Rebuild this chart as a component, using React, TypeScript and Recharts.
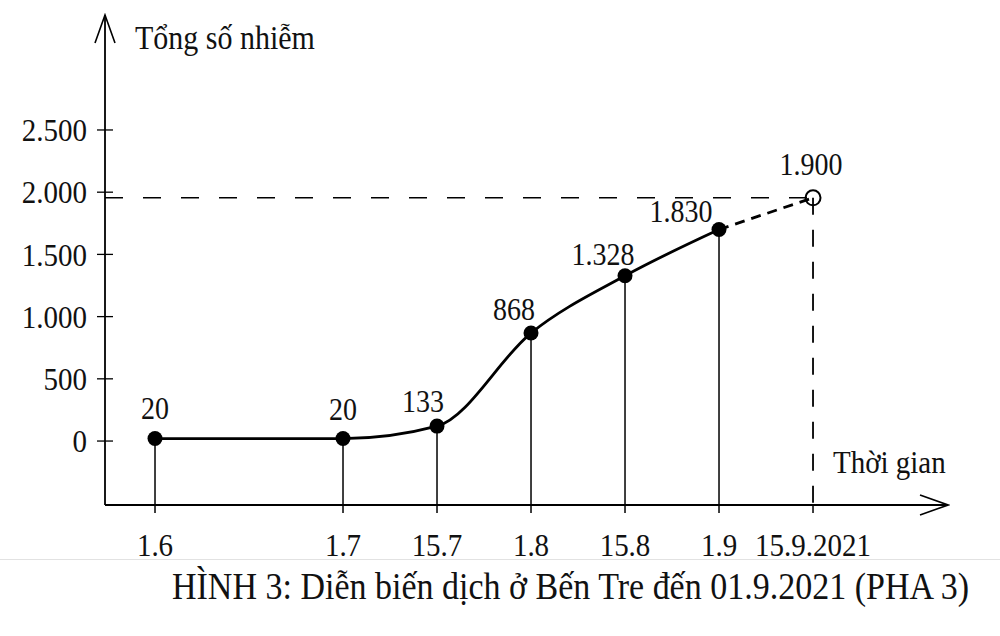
import React from "react";
import { LineChart, Line, XAxis, YAxis, ReferenceLine } from "recharts";

// half-months since 1.6 (1.6 = 0, 15.6 = 1, 1.7 = 2 ...)
const datePositions = [0, 2, 3, 4, 5, 6, 7];
const dateLabels = ["1.6", "1.7", "15.7", "1.8", "15.8", "1.9", "15.9.2021"];
// heights as drawn in the figure
const casesPlotted = [20, 20, 120, 868, 1328, 1700, 1955];
const caseLabels = ["20", "20", "133", "868", "1.328", "1.830", "1.900"];
const yTicks = [0, 500, 1000, 1500, 2000, 2500];

const X_MIN = -0.532;
const X_MAX = 8.436;
const Y_MIN = -514;
const Y_MAX = 3424;
const LAST_SOLID = 5;
const SERIF = "'Liberation Serif', 'Times New Roman', serif";

// label placement relative to each dot (baseline offset)
const labelOffsets = [
  [0, -20],
  [0, -19],
  [-14, -14],
  [-17, -13],
  [-22, -11],
  [-38, -8],
  [-2, -23],
];

const data = datePositions.map((t, i) => ({
  t,
  solid: i <= LAST_SOLID ? casesPlotted[i] : null,
  proj: i >= LAST_SOLID ? casesPlotted[i] : null,
}));

const fmt = (v: number) => String(v).replace(/\B(?=(\d{3})+(?!\d))/g, ".");

// the scanned figure's glyphs are a little taller than they are wide
const stretch = (y: number) => `matrix(1 0 0 1.1 0 ${-0.1 * y})`;

const YTick = (props: any) => {
  const { x, y, payload } = props;
  return (
    <g>
      <line x1={x + 10} x2={x + 26} y1={y} y2={y} stroke="#000" strokeWidth={1.3} />
      <text
        x={x}
        y={y}
        dy="0.35em"
        textAnchor="end"
        fontFamily={SERIF}
        fontSize={29}
        fill="#111"
        transform={stretch(y)}
      >
        {fmt(payload.value)}
      </text>
    </g>
  );
};

const XTick = (props: any) => {
  const { x, y, payload } = props;
  return (
    <text
      x={x}
      y={y}
      dy="0.71em"
      textAnchor="middle"
      fontFamily={SERIF}
      fontSize={29}
      fill="#111"
      transform={stretch(y)}
    >
      {dateLabels[datePositions.indexOf(payload.value)]}
    </text>
  );
};

const DotLabel = ({ cx, cy, i }: { cx: number; cy: number; i: number }) => {
  const y = cy + labelOffsets[i][1];
  return (
    <text
      x={cx + labelOffsets[i][0]}
      y={y}
      textAnchor="middle"
      fontFamily={SERIF}
      fontSize={28}
      fill="#111"
      transform={stretch(y)}
    >
      {caseLabels[i]}
    </text>
  );
};

const SolidDot = (props: any) => {
  const { cx, cy, index } = props;
  if (cy == null) return <g key={`s${index}`} />;
  return (
    <g key={`s${index}`}>
      <circle cx={cx} cy={cy} r={7.5} fill="#000" />
      <DotLabel cx={cx} cy={cy} i={index} />
    </g>
  );
};

const ProjDot = (props: any) => {
  const { cx, cy, index } = props;
  if (cy == null || index < casesPlotted.length - 1) return <g key={`p${index}`} />;
  return (
    <g key={`p${index}`}>
      <circle cx={cx} cy={cy} r={7.5} fill="none" stroke="#000" strokeWidth={2} />
      <DotLabel cx={cx} cy={cy} i={index} />
    </g>
  );
};

export default function App() {
  const last = casesPlotted.length - 1;
  return (
    <div style={{ position: "absolute", left: 0, top: 0, width: 1000, height: 636, background: "#fff" }}>
      <div style={{ position: "absolute", left: 0, top: 559, width: 1000, height: 1, background: "#e2e2e2" }} />
      <LineChart
        width={1000}
        height={636}
        data={data}
        margin={{ top: 15, right: 52, left: 5, bottom: 71 }}
      >
        <defs>
          <marker
            id="chev"
            viewBox="-30 -12 32 24"
            refX={0}
            refY={0}
            markerWidth={32}
            markerHeight={24}
            markerUnits="userSpaceOnUse"
            orient="auto-start-reverse"
          >
            <path d="M -28 -10 L 0 0 L -28 10" fill="none" stroke="#000" strokeWidth={1.6} />
          </marker>
        </defs>
        <XAxis
          dataKey="t"
          type="number"
          domain={[X_MIN, X_MAX]}
          ticks={datePositions}
          allowDataOverflow
          height={60}
          tickSize={8}
          tickMargin={20}
          tick={<XTick />}
          tickLine={{ stroke: "#000", strokeWidth: 1.5 }}
          axisLine={{ stroke: "#000", strokeWidth: 1.8, markerEnd: "url(#chev)" }}
        />
        <YAxis
          type="number"
          domain={[Y_MIN, Y_MAX]}
          ticks={yTicks}
          allowDataOverflow
          width={100}
          tickSize={8}
          tickMargin={10}
          tickLine={false}
          tick={<YTick />}
          axisLine={{ stroke: "#000", strokeWidth: 1.8, markerStart: "url(#chev)" }}
        />
        <ReferenceLine
          segment={[
            { x: X_MIN, y: casesPlotted[last] },
            { x: datePositions[last], y: casesPlotted[last] },
          ]}
          stroke="#000"
          strokeWidth={1.5}
          strokeDasharray="18 20"
        />
        <ReferenceLine
          segment={[
            { x: datePositions[last], y: casesPlotted[last] },
            { x: datePositions[last], y: Y_MIN },
          ]}
          stroke="#000"
          strokeWidth={1.8}
          strokeDasharray="17 15"
        />
        {datePositions.slice(0, LAST_SOLID + 1).map((t, i) => (
          <ReferenceLine
            key={t}
            segment={[
              { x: t, y: casesPlotted[i] },
              { x: t, y: Y_MIN },
            ]}
            stroke="#000"
            strokeWidth={1.5}
          />
        ))}
        <Line
          dataKey="proj"
          type="monotone"
          stroke="#000"
          strokeWidth={2.8}
          strokeDasharray="10 7"
          dot={<ProjDot />}
          connectNulls={false}
          isAnimationActive={false}
        />
        <Line
          dataKey="solid"
          type="monotone"
          stroke="#000"
          strokeWidth={2.8}
          dot={<SolidDot />}
          connectNulls={false}
          isAnimationActive={false}
        />
        <text x={135} y={49} fontFamily={SERIF} fontSize={30} fill="#111" transform={stretch(49)}>
          Tổng số nhiễm
        </text>
        <text x={833} y={473} fontFamily={SERIF} fontSize={29} fill="#111" transform={stretch(473)}>
          Thời gian
        </text>
        <text x={172} y={599} fontFamily={SERIF} fontSize={34} fill="#111" transform={stretch(599)}>
          HÌNH 3: Diễn biến dịch ở Bến Tre đến 01.9.2021 (PHA 3)
        </text>
      </LineChart>
    </div>
  );
}
